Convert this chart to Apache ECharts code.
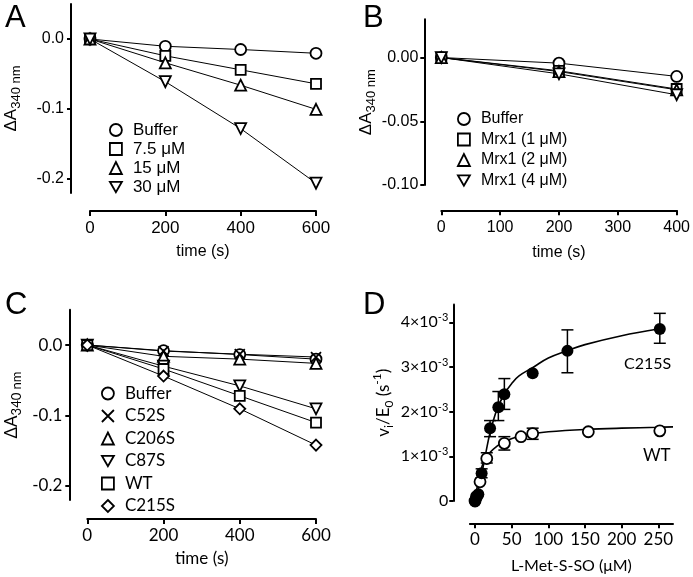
<!DOCTYPE html>
<html>
<head>
<meta charset="utf-8">
<script src="https://cdn.jsdelivr.net/npm/echarts@6/dist/echarts.min.js"></script>
<style>html,body{margin:0;padding:0;background:#fff}#c{width:693px;height:577px}</style>
</head>
<body>
<div id="c"></div>
<script>
// ---- Panel A ----
const aTime = [0, 200, 400, 600];
const aBuffer = [0, -0.0104, -0.015, -0.0204];
const a7_5 = [0, -0.024, -0.044, -0.064];
const a15 = [0, -0.034, -0.066, -0.1005];
const a30 = [0, -0.061, -0.128, -0.206];
const aYTicks = [-0.2, -0.1, 0];
const aXTicks = [0, 200, 400, 600];
// ---- Panel B ----
const bTime = [0, 200, 400];
const bBuffer = [0, -0.0044, -0.0148];
const bMrx1 = [0, -0.0104, -0.0247];
const bMrx2 = [0, -0.011, -0.0253];
const bMrx4 = [0, -0.0128, -0.0292];
const bYTicks = [-0.10, -0.05, 0];
const bXTicks = [0, 100, 200, 300, 400];
// ---- Panel C ----
const cTime = [0, 200, 400, 600];
const cBuffer = [0, -0.008, -0.0135, -0.02];
const cC52S = [0, -0.0085, -0.013, -0.017];
const cC206S = [0, -0.016, -0.02, -0.026];
const cC87S = [0, -0.03, -0.058, -0.0905];
const cWT = [0, -0.034, -0.072, -0.11];
const cC215S = [0, -0.044, -0.0905, -0.142];
const cYTicks = [-0.2, -0.1, 0];
// ---- Panel D (v/E0 in units of 1e-3 s^-1) ----
const dC215S_S = [0, 2, 4.5, 9, 20.5, 31.8, 40, 78.6, 126, 252];
const dC215S_v = [0, 0.08, 0.15, 0.62, 1.63, 2.10, 2.39, 2.86, 3.36, 3.85];
const dC215S_errS = [9, 20.5, 31.8, 40, 126, 252];
const dC215S_errLo = [0.52, 1.44, 1.80, 2.05, 2.87, 3.53];
const dC215S_errHi = [0.72, 1.80, 2.45, 2.74, 3.83, 4.20];
const dWT_S = [0, 2, 6.8, 16, 40, 62.7, 78.6, 154.5, 252];
const dWT_v = [0, 0.1, 0.43, 0.95, 1.29, 1.44, 1.51, 1.55, 1.57];
const dWT_errS = [16, 40, 78.6];
const dWT_errLo = [0.85, 1.14, 1.38];
const dWT_errHi = [1.08, 1.44, 1.63];
const dFitC215S_S = [0, 5, 10, 15, 20, 25, 30, 40, 50, 60, 80, 100, 125, 150, 200, 250];
const dFitC215S_v = [0, 0.3, 0.68, 1.1, 1.5, 1.8, 2.05, 2.4, 2.63, 2.8, 3.0, 3.2, 3.36, 3.5, 3.7, 3.85];
const dFitWT_S = [0, 5, 10, 15, 20, 30, 40, 60, 80, 100, 150, 200, 250, 270];
const dFitWT_v = [0, 0.5, 0.8, 0.95, 1.08, 1.23, 1.33, 1.45, 1.51, 1.55, 1.6, 1.63, 1.65, 1.66];
const dYTicks = [0, 1, 2, 3, 4];
const dXTicks = [0, 50, 100, 150, 200, 250];

const ARIAL = 'Liberation Sans';
const GILL = 'Lato';
const DOWN = 'path://M0,0L10,0L5,8.66Z';
const CROSS = 'path://M0,0L10,10M10,0L0,10';

const zip = (xs, ys) => xs.map((x, i) => [x, ys[i]]);
const axisLine = {show: true, onZero: false, lineStyle: {color: '#000', width: 2}};

function series(name, gi, xs, ys, symbol, size) {
  return {
    name, type: 'line', xAxisIndex: gi, yAxisIndex: gi,
    data: zip(xs, ys), symbol, symbolSize: size || 11,
    lineStyle: {color: '#000', width: 1},
    itemStyle: {color: '#fff', borderColor: '#000', borderWidth: 1.8},
    emphasis: {disabled: true}, animation: false
  };
}
function xAx(gi, min, max, ticks, offset, font, fs, margin, gap, name, nameFs) {
  return {
    type: 'value', gridIndex: gi, min, max, offset,
    axisLine, splitLine: {show: false},
    axisTick: {show: true, length: 5, lineStyle: {color: '#000', width: 2}, customValues: ticks},
    axisLabel: {customValues: ticks, color: '#000', fontFamily: font, fontSize: fs, margin},
    name, nameLocation: 'middle', nameGap: gap,
    nameTextStyle: {color: '#000', fontFamily: font, fontSize: nameFs}
  };
}
function yAx(gi, min, max, ticks, offset, font, fs, margin, fmt, gap, name, rich) {
  return {
    type: 'value', gridIndex: gi, min, max, offset,
    axisLine, splitLine: {show: false},
    axisTick: {show: true, length: 4, lineStyle: {color: '#000', width: 2}, customValues: ticks},
    axisLabel: {customValues: ticks, color: '#000', fontFamily: font, fontSize: fs, margin, formatter: fmt,
      rich: {m: {fontFamily: font, fontSize: fs, color: '#000', lineHeight: 20}, sup: {fontFamily: font, fontSize: 11, color: '#000', verticalAlign: 'top', lineHeight: 11}}},
    name, nameLocation: 'middle', nameGap: gap, nameRotate: 90,
    nameTextStyle: {color: '#000', rich}
  };
}
const richDA = (font) => ({
  a: {fontFamily: font, fontSize: 17, color: '#000', lineHeight: 24, verticalAlign: 'middle'},
  s: {fontFamily: font, fontSize: 13, color: '#000', lineHeight: 13, verticalAlign: 'bottom'}
});
const richD = {
  a: {fontFamily: GILL, fontSize: 17, color: '#000', lineHeight: 24, verticalAlign: 'middle'},
  s: {fontFamily: GILL, fontSize: 12, color: '#000', lineHeight: 12, verticalAlign: 'bottom'},
  p: {fontFamily: GILL, fontSize: 12, color: '#000', lineHeight: 12, verticalAlign: 'top'}
};
function legend(left, top, gap, font, fs, items) {
  return {
    orient: 'vertical', left, top, itemWidth: 12, itemHeight: 12, itemGap: gap,
    selectedMode: false,
    itemStyle: {color: '#fff', borderColor: '#000', borderWidth: 1.8},
    textStyle: {fontFamily: font, fontSize: fs, color: '#000', padding: [0, 0, 0, 6]},
    data: items.map(([name, icon]) => ({name, icon}))
  };
}
function errBars(gi, xs, lo, hi) {
  return {
    type: 'custom', xAxisIndex: gi, yAxisIndex: gi, animation: false, silent: true,
    data: xs.map((x, i) => [x, lo[i], hi[i]]),
    encode: {x: 0, y: [1, 2]},
    renderItem: (params, api) => {
      const a = api.coord([api.value(0), api.value(1)]);
      const b = api.coord([api.value(0), api.value(2)]);
      const w = 6;
      const st = {stroke: '#000', lineWidth: 1.5};
      return {type: 'group', children: [
        {type: 'line', shape: {x1: a[0], y1: a[1], x2: b[0], y2: b[1]}, style: st},
        {type: 'line', shape: {x1: a[0] - w, y1: a[1], x2: a[0] + w, y2: a[1]}, style: st},
        {type: 'line', shape: {x1: b[0] - w, y1: b[1], x2: b[0] + w, y2: b[1]}, style: st}
      ]};
    }
  };
}

const fmt1 = v => v === 0 ? '0.0' : v.toFixed(1);
const fmt2 = v => v === 0 ? '0.00' : v.toFixed(2);
const fmtD = v => v === 0 ? '0' : '{m|' + v + '×10}{sup|-3}';

const option = {
  animation: false,
  backgroundColor: '#fff',
  title: [
    {text: 'A', left: 0, top: -2, textStyle: {fontFamily: ARIAL, fontSize: 31, fontWeight: 'normal', color: '#000'}},
    {text: 'B', left: 358, top: -2, textStyle: {fontFamily: ARIAL, fontSize: 31, fontWeight: 'normal', color: '#000'}},
    {text: 'C', left: 0, top: 285, textStyle: {fontFamily: ARIAL, fontSize: 31, fontWeight: 'normal', color: '#000'}},
    {text: 'D', left: 358, top: 285, textStyle: {fontFamily: ARIAL, fontSize: 31, fontWeight: 'normal', color: '#000'}}
  ],
  grid: [
    {left: 90, top: 4, width: 226, height: 189},
    {left: 441.3, top: 19.3, width: 237, height: 165.7},
    {left: 87.3, top: 309.8, width: 228.7, height: 190.3},
    {left: 469.9, top: 304.4, width: 203.1, height: 196.6}
  ],
  xAxis: [
    xAx(0, 0, 600, aXTicks, 18, ARIAL, 17, 9, 33, 'time (s)', 16),
    xAx(1, 0, 400, bXTicks, 25.3, ARIAL, 16, 9, 34, 'time (s)', 16),
    xAx(2, 0, 600, aXTicks, 19, GILL, 17, 8, 31, 'time (s)', 17),
    xAx(3, -7, 270, dXTicks, 22.3, GILL, 17, 8, 35, 'L-Met-S-SO (μM)', 16)
  ],
  yAxis: [
    yAx(0, -0.22, 0.05, aYTicks, 19, ARIAL, 16, 7, fmt1, 48, '{a|ΔA}{s|340 nm}', richDA(ARIAL)),
    yAx(1, -0.10, 0.03, bYTicks, 17, ARIAL, 16, 6, fmt2, 38, '{a|ΔA}{s|340 nm}', richDA(ARIAL)),
    yAx(2, -0.22, 0.05, cYTicks, 18, GILL, 17, 7, fmt1, 46, '{a|ΔA}{s|340 nm}', richDA(GILL)),
    yAx(3, 0, 4.4, dYTicks, 16.6, GILL, 16, 5, fmtD, 58, '{a|v}{s|i}{a|/E}{s|0}{a| (s}{p|-1}{a|)}', richD)
  ],
  legend: [
    legend(104, 116.5, 2, ARIAL, 17, [['Buffer', 'circle'], ['7.5 μM', 'rect'], ['15 μM', 'triangle'], ['30 μM', DOWN]]),
    legend(452, 106, 4.5, ARIAL, 16, [['Buffer', 'circle'], ['Mrx1 (1 μM)', 'rect'], ['Mrx1 (2 μM)', 'triangle'], ['Mrx1 (4 μM)', DOWN]]),
    legend(96, 380, 5.5, GILL, 17, [['Buffer', 'circle'], ['C52S', CROSS], ['C206S', 'triangle'], ['C87S', DOWN], ['WT', 'rect'], ['C215S', 'diamond']])
  ],
  graphic: [
    {type: 'text', left: 624, top: 356, style: {text: 'C215S', font: '16px Lato', fill: '#000'}},
    {type: 'text', left: 643, top: 447, style: {text: 'WT', font: '17px Lato', fill: '#000'}}
  ],
  series: [
    series('Buffer', 0, aTime, aBuffer, 'circle'),
    series('7.5 μM', 0, aTime, a7_5, 'rect', 10),
    series('15 μM', 0, aTime, a15, 'triangle'),
    series('30 μM', 0, aTime, a30, DOWN),
    series('Buffer', 1, bTime, bBuffer, 'circle'),
    series('Mrx1 (1 μM)', 1, bTime, bMrx1, 'rect', 10),
    series('Mrx1 (2 μM)', 1, bTime, bMrx2, 'triangle'),
    series('Mrx1 (4 μM)', 1, bTime, bMrx4, DOWN),
    series('Buffer', 2, cTime, cBuffer, 'circle'),
    series('C52S', 2, cTime, cC52S, CROSS, 10),
    series('C206S', 2, cTime, cC206S, 'triangle'),
    series('C87S', 2, cTime, cC87S, DOWN),
    series('WT', 2, cTime, cWT, 'rect', 10),
    series('C215S', 2, cTime, cC215S, 'diamond', 11),
    {type: 'line', name: 'fit C215S', xAxisIndex: 3, yAxisIndex: 3, data: zip(dFitC215S_S, dFitC215S_v), smooth: 0.4, showSymbol: false, symbol: 'none', lineStyle: {color: '#000', width: 1.6}, animation: false},
    {type: 'line', name: 'fit WT', xAxisIndex: 3, yAxisIndex: 3, data: zip(dFitWT_S, dFitWT_v), smooth: 0.4, showSymbol: false, symbol: 'none', lineStyle: {color: '#000', width: 1.6}, animation: false},
    errBars(3, dC215S_errS, dC215S_errLo, dC215S_errHi),
    errBars(3, dWT_errS, dWT_errLo, dWT_errHi),
    {type: 'scatter', name: 'kin WT', xAxisIndex: 3, yAxisIndex: 3, data: zip(dWT_S, dWT_v), symbol: 'circle', symbolSize: 11, itemStyle: {color: '#fff', borderColor: '#000', borderWidth: 1.8, opacity: 1}, animation: false, z: 3},
    {type: 'scatter', name: 'kin C215S', xAxisIndex: 3, yAxisIndex: 3, data: zip(dC215S_S, dC215S_v), symbol: 'circle', symbolSize: 12, itemStyle: {color: '#000', opacity: 1}, animation: false, z: 4}
  ]
};
const chart = echarts.init(document.getElementById('c'), null, {renderer: 'canvas'});
chart.setOption(option);
</script>
</body>
</html>
